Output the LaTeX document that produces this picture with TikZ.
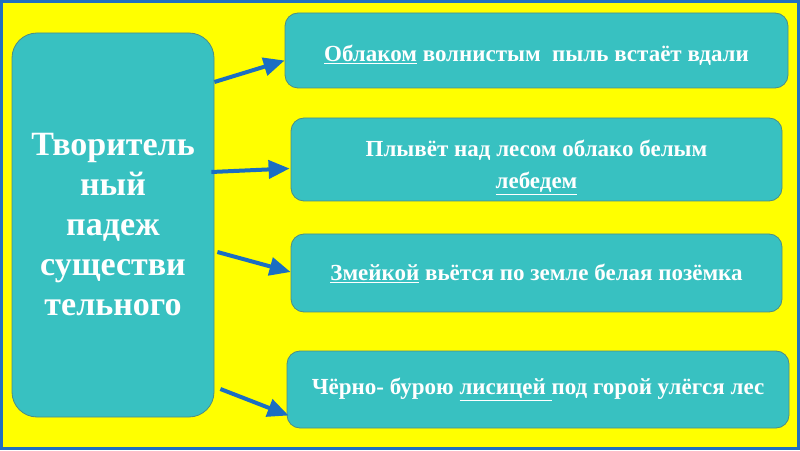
\documentclass[tikz,border=0pt]{standalone}
\usepackage{fontspec}
\setmainfont{Liberation Serif}
\usetikzlibrary{arrows.meta}

\begin{document}
\begin{tikzpicture}[x=1pt, y=1pt]
    \definecolor{frameColour}{HTML}{1F6FC0}
    \definecolor{backColour}{HTML}{FFFF00}
    \definecolor{boxColour}{HTML}{38C1C1}
    \definecolor{edgeColour}{HTML}{4E8C84}
    \definecolor{arrowColour}{HTML}{1B6EC2}

    \tikzset{
        caseBox/.style={draw=edgeColour, fill=boxColour, line width=0.8pt, rounded corners=25pt,
            minimum width=202pt, minimum height=384pt, text=white, align=center, inner sep=0pt,
            font=\bfseries\fontsize{34}{40}\selectfont},
        lineBox/.style={draw=edgeColour, fill=boxColour, line width=0.8pt, rounded corners=13pt,
            text=white, align=center, inner sep=0pt,
            font=\bfseries\fontsize{23}{32}\selectfont},
        caseArrow/.style={draw=arrowColour, line width=4pt, -{Triangle[length=21pt, width=18pt]}}
    }

    % Page and frame
    \useasboundingbox (0,0) rectangle (800,450);
    \fill[backColour] (0,0) rectangle (800,450);
    \draw[frameColour, line width=3pt] (1.5,1.5) rectangle (798.5,448.5);

    % The case
    \node[caseBox] (case) at (113,225) {Творитель\\ный\\падеж\\существи\\тельного};

    % Examples
    \node[lineBox, minimum width=503pt, minimum height=75pt] (ex1) at (536.5,399.5)
        {\rule{0pt}{27pt}\underline{Облаком} волнистым\ \ пыль встаёт вдали};
    \node[lineBox, minimum width=491pt, minimum height=83pt] (ex2) at (536.5,290.5)
        {\rule{0pt}{32pt}Плывёт над лесом облако белым\\\underline{лебедем}};
    \node[lineBox, minimum width=491pt, minimum height=78pt] (ex3) at (536.5,177)
        {\underline{Змейкой} вьётся по земле белая позёмка};
    \node[lineBox, minimum width=502pt, minimum height=77pt] (ex4) at (538,60.5)
        {Чёрно- бурою \underline{лисицей }под горой улёгся лес};

    % Arrows
    \draw[caseArrow] ([yshift=143pt]case.east) -- ([yshift=-10pt]ex1.west);
    \draw[caseArrow] ([xshift=-3pt, yshift=53pt]case.east) -- ([xshift=-1pt, yshift=-9pt]ex2.west);
    \draw[caseArrow] ([xshift=3pt, yshift=-27pt]case.east) -- ([yshift=1pt]ex3.west);
    \draw[caseArrow] ([xshift=6pt, yshift=-164pt]case.east) -- ([xshift=2pt, yshift=-26pt]ex4.west);

\end{tikzpicture}
\end{document}
